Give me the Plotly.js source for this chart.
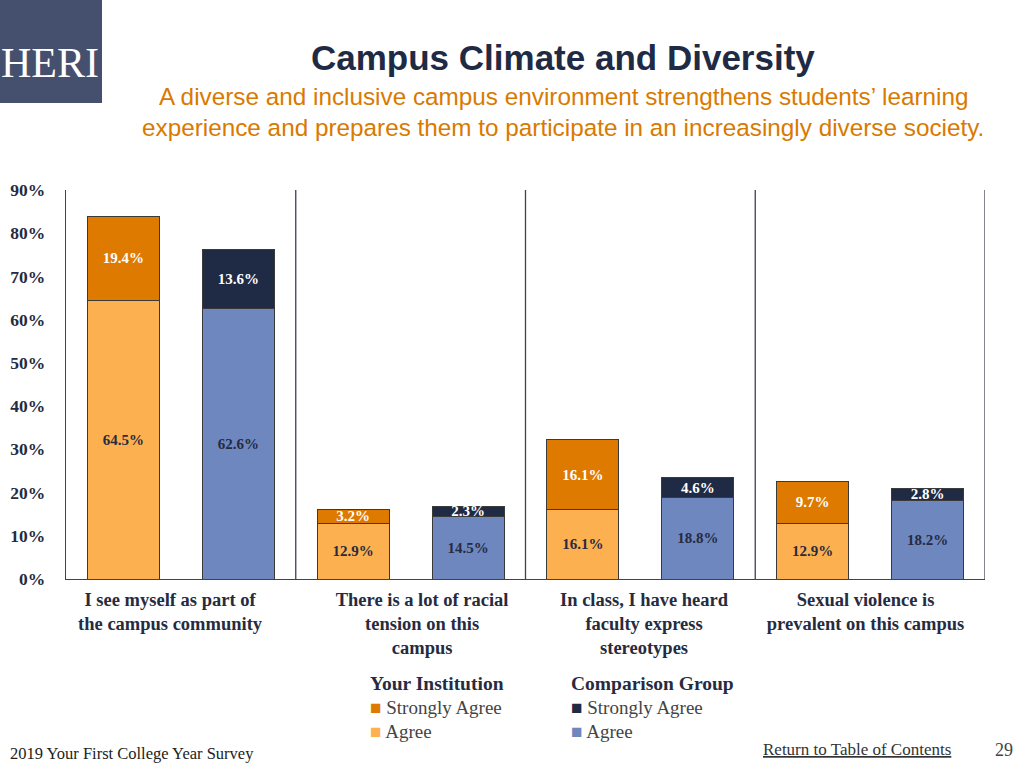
<!DOCTYPE html>
<html>
<head>
<meta charset="utf-8">
<script src="https://cdn.plot.ly/plotly-3.0.1.min.js"></script>
<style>
html,body{margin:0;padding:0;background:#fff;}
#chart{width:1024px;height:768px;}
</style>
</head>
<body>
<div id="chart"></div>
<script>
// Data
const categories = [
  "I see myself as part of<br>the campus community",
  "There is a lot of racial<br>tension on this<br>campus",
  "In class, I have heard<br>faculty express<br>stereotypes",
  "Sexual violence is<br>prevalent on this campus"
];
const instAgree = [64.5, 12.9, 16.1, 12.9];
const instStrongly = [19.4, 3.2, 16.1, 9.7];
const compAgree = [62.6, 14.5, 18.8, 18.2];
const compStrongly = [13.6, 2.3, 4.6, 2.8];
const yTickVals = [0, 10, 20, 30, 40, 50, 60, 70, 80, 90];
const yTickText = yTickVals.map(v => v + "%");

// Positions of bars within each category slot
const instX = categories.map((c, i) => i + 0.25);
const compX = categories.map((c, i) => i + 0.75);
// label placement offsets (layout only)
const labelShift = [-0.047, 0.05, 0.016, -0.02];
const catX = categories.map((c, i) => i + 0.5 + labelShift[i]);

const COL = {
  instStrong: "#DE7A00",
  instAgree: "#FDB04F",
  compStrong: "#1F2A44",
  compAgree: "#6E87BF",
  text: "#262B40",
  line: "#3F4252"
};
const serif = "Liberation Serif, DejaVu Serif, serif";
const sans = "Liberation Sans, Arial, sans-serif";
const BW = 0.313;

function barTrace(x, y, color, textColor, name) {
  return {
    type: "bar", x: x, y: y, name: name, width: BW,
    marker: {color: color, line: {color: "#3a3a3a", width: 1}},
    text: y.map(v => v.toFixed(1) + "%"),
    textposition: "inside",
    insidetextanchor: "middle",
    constraintext: "none",
    textangle: 0,
    textfont: {family: serif, size: 15, color: textColor, weight: "bold"},
    hoverinfo: "skip",
    showlegend: false,
    cliponaxis: false
  };
}

const traces = [
  barTrace(instX, instAgree, COL.instAgree, COL.text, "Your Institution Agree"),
  barTrace(instX, instStrongly, COL.instStrong, "#ffffff", "Your Institution Strongly Agree"),
  barTrace(compX, compAgree, COL.compAgree, COL.text, "Comparison Group Agree"),
  barTrace(compX, compStrongly, COL.compStrong, "#ffffff", "Comparison Group Strongly Agree")
];

const shapes = [
  // logo box
  {type: "rect", xref: "paper", yref: "paper", x0: -66/919, x1: 36/919, y0: 1 + (190-103)/389, y1: 1 + 190/389,
   fillcolor: "#45506E", line: {width: 0}, layer: "below"}
];
[1, 2, 3, 4].forEach(v => shapes.push({
  type: "line", xref: "x", yref: "paper", x0: v, x1: v, y0: 0, y1: 1,
  line: {color: COL.line, width: 1.3}
}));

function px(x) { return (x - 66) / 919; }
function py(y) { return (579 - y) / 389; }

const annotations = [
  {text: "HERI", xref: "paper", yref: "paper", x: px(50), y: py(63), showarrow: false,
   xanchor: "center", yanchor: "middle", font: {family: serif, size: 42, color: "#ffffff"}},
  {text: "<b>Campus Climate and Diversity</b>", xref: "paper", yref: "paper",
   x: px(563), y: py(57), showarrow: false, xanchor: "center", yanchor: "middle",
   font: {family: sans, size: 35, color: "#1F2A44"}},
  {text: "A diverse and inclusive campus environment strengthens students’ learning", xref: "paper", yref: "paper",
   x: px(563), y: py(96), showarrow: false, xanchor: "center", yanchor: "middle",
   font: {family: sans, size: 24.3, color: "#D97A00"}},
  {text: "experience and prepares them to participate in an increasingly diverse society.", xref: "paper", yref: "paper",
   x: px(563), y: py(127), showarrow: false, xanchor: "center", yanchor: "middle",
   font: {family: sans, size: 24.3, color: "#D97A00"}},
  // legend
  {text: "<b>Your Institution</b>", xref: "paper", yref: "paper", x: px(368), y: py(683),
   showarrow: false, xanchor: "left", yanchor: "middle", font: {family: serif, size: 19.5, color: COL.text}},
  {text: "<span style='color:" + COL.instStrong + "'>■</span> Strongly Agree", xref: "paper", yref: "paper",
   x: px(368), y: py(707), showarrow: false, xanchor: "left", yanchor: "middle",
   font: {family: serif, size: 19, color: "#444"}},
  {text: "<span style='color:" + COL.instAgree + "'>■</span> Agree", xref: "paper", yref: "paper",
   x: px(368), y: py(731), showarrow: false, xanchor: "left", yanchor: "middle",
   font: {family: serif, size: 19, color: "#444"}},
  {text: "<b>Comparison Group</b>", xref: "paper", yref: "paper", x: px(569), y: py(683),
   showarrow: false, xanchor: "left", yanchor: "middle", font: {family: serif, size: 19.5, color: COL.text}},
  {text: "<span style='color:" + COL.compStrong + "'>■</span> Strongly Agree", xref: "paper", yref: "paper",
   x: px(569), y: py(707), showarrow: false, xanchor: "left", yanchor: "middle",
   font: {family: serif, size: 19, color: "#444"}},
  {text: "<span style='color:" + COL.compAgree + "'>■</span> Agree", xref: "paper", yref: "paper",
   x: px(569), y: py(731), showarrow: false, xanchor: "left", yanchor: "middle",
   font: {family: serif, size: 19, color: "#444"}},
  // footer
  {text: "2019 Your First College Year Survey", xref: "paper", yref: "paper", x: px(8), y: py(753),
   showarrow: false, xanchor: "left", yanchor: "middle", font: {family: serif, size: 16.5, color: "#222"}},
  {text: "<u>Return to Table of Contents</u>", xref: "paper", yref: "paper", x: px(761), y: py(749),
   showarrow: false, xanchor: "left", yanchor: "middle", font: {family: serif, size: 17, color: "#333"}},
  {text: "29", xref: "paper", yref: "paper", x: px(1015), y: py(750),
   showarrow: false, xanchor: "right", yanchor: "middle", font: {family: serif, size: 18, color: "#444"}}
];

const layout = {
  width: 1024, height: 768,
  margin: {l: 66, r: 39, t: 190, b: 189, pad: 0},
  paper_bgcolor: "#ffffff", plot_bgcolor: "#ffffff",
  barmode: "stack",
  showlegend: false,
  xaxis: {
    range: [0, 4], fixedrange: true,
    tickvals: catX, ticktext: categories,
    showgrid: false, zeroline: false,
    showline: true, linecolor: COL.line, linewidth: 1.3,
    ticks: "", ticklabelstandoff: 3,
    tickfont: {family: serif, size: 18.5, color: COL.text, weight: "bold"}
  },
  yaxis: {
    range: [0, 90], fixedrange: true,
    tickvals: yTickVals, ticktext: yTickText,
    showgrid: false, zeroline: false,
    showline: true, linecolor: COL.line, linewidth: 1.3,
    ticks: "", ticklabelstandoff: 16,
    tickfont: {family: serif, size: 17.5, color: COL.text, weight: "bold"}
  },
  shapes: shapes,
  annotations: annotations
};

Plotly.newPlot("chart", traces, layout, {displayModeBar: false, staticPlot: true});
</script>
</body>
</html>
